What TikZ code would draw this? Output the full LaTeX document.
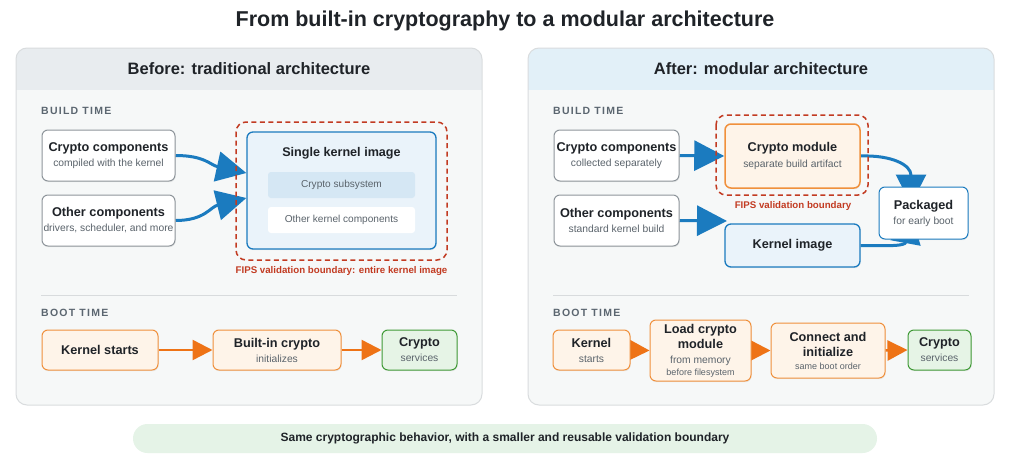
\documentclass[tikz,border=0pt]{standalone}
\usepackage{fontspec}
\setmainfont{Liberation Sans}
\usetikzlibrary{arrows.meta,shadows}
\pgfdeclarelayer{bg}
\pgfdeclarelayer{arr}
\pgfsetlayers{bg,arr,main}
\definecolor{titlec}{HTML}{1F2328}
\definecolor{subc}{HTML}{5A636B}
\definecolor{secc}{HTML}{5B6670}
\definecolor{boxgray}{HTML}{8E959B}
\definecolor{blueC}{HTML}{1B7BBF}
\definecolor{bluefill}{HTML}{EAF3FA}
\definecolor{bluesub}{HTML}{D5E7F4}
\definecolor{redC}{HTML}{C23B22}
\definecolor{orangeC}{HTML}{F0903C}
\definecolor{orangeA}{HTML}{EE7316}
\definecolor{orangefill}{HTML}{FEF4E9}
\definecolor{greenC}{HTML}{3F9A36}
\definecolor{greenfill}{HTML}{E6F4E6}
\definecolor{panelbg}{HTML}{F6F8F8}
\definecolor{panelbd}{HTML}{D9DCDE}
\definecolor{hdrL}{HTML}{E8ECEF}
\definecolor{hdrR}{HTML}{E2F0F8}
\definecolor{pillc}{HTML}{E5F3E7}
\definecolor{sepc}{HTML}{D8DBDD}
\newcommand{\ttl}[1]{{\fontsize{12.7}{15}\selectfont\bfseries\color{titlec}#1}}
\newcommand{\sbt}[1]{{\fontsize{10.3}{12}\selectfont\color{subc}#1}}
\newcommand{\sml}[1]{{\fontsize{9}{10.5}\selectfont\color{subc}#1}}
\newcommand{\seclbl}[1]{{\fontsize{10.5}{12}\selectfont\bfseries\addfontfeature{LetterSpace=12}\color{secc}#1}}
\tikzset{
  base/.style={rounded corners=6pt, line width=1pt, align=center, inner sep=0pt, text=titlec,
    drop shadow={opacity=0.12, shadow xshift=0.6pt, shadow yshift=-1.2pt}},
  graybox/.style={base, draw=boxgray, fill=white},
  bluebox/.style={base, draw=blueC, fill=bluefill, line width=1.3pt},
  orangebox/.style={base, draw=orangeC, fill=orangefill},
  greenbox/.style={base, draw=greenC, fill=greenfill},
  inner/.style={rounded corners=3pt, inner sep=0pt, minimum width=147pt, minimum height=26pt, text=subc, font=\fontsize{10.1}{12}\selectfont},
  bigarrow/.style={draw=blueC, line width=3pt, -{Triangle[length=30pt,width=30pt]}, color=blueC},
  orarrow/.style={draw=orangeA, line width=2.5pt, -{Triangle[length=20pt,width=20pt]}, color=orangeA},
  boundary/.style={draw=redC, line width=1.5pt, dash pattern=on 5pt off 3.5pt, rounded corners=10pt},
  fips/.style={text=redC, font=\fontsize{9.7}{11}\selectfont\bfseries, inner sep=0pt},
  hdr/.style={font=\fontsize{16.5}{19}\selectfont\bfseries, text=titlec, inner sep=0pt},
  sec/.style={anchor=west, inner sep=0pt},
}
\begin{document}
\begin{tikzpicture}[x=1pt,y=-1pt]
\useasboundingbox (0,0) rectangle (1015,471);
% ---- backgrounds
\begin{pgfonlayer}{bg}
  \fill[white] (0,0) rectangle (1015,471);
  % left panel
  \begin{scope}
    \clip[rounded corners=11pt] (16,48) rectangle (482,405);
    \fill[panelbg] (16,48) rectangle (482,405);
    \fill[hdrL] (16,48) rectangle (482,90);
  \end{scope}
  \draw[panelbd, line width=1pt, rounded corners=11pt] (16,48) rectangle (482,405);
  % right panel
  \begin{scope}
    \clip[rounded corners=11pt] (528,48) rectangle (994,405);
    \fill[panelbg] (528,48) rectangle (994,405);
    \fill[hdrR] (528,48) rectangle (994,90);
  \end{scope}
  \draw[panelbd, line width=1pt, rounded corners=11pt] (528,48) rectangle (994,405);
  % separators
  \draw[sepc, line width=1pt] (41,295) -- (457,295);
  \draw[sepc, line width=1pt] (553,295) -- (969,295);
  % pill
  \fill[pillc, rounded corners=14.5pt] (133,424) rectangle (877,453);
\end{pgfonlayer}

% ---- texts
\node[font=\fontsize{21.5}{25}\selectfont\bfseries, text=titlec, inner sep=0pt] (title) at (505,21) {From built-in cryptography to a modular architecture};
\node[hdr] (hL) at (249,69) {Before: traditional architecture};
\node[hdr] (hR) at (761,69) {After: modular architecture};
\node[sec] (bL) at (41,111) {\seclbl{BUILD TIME}};
\node[sec] (tL) at (41,313) {\seclbl{BOOT TIME}};
\node[sec] (bR) at (553,111) {\seclbl{BUILD TIME}};
\node[sec] (tR) at (553,313) {\seclbl{BOOT TIME}};
\node[font=\fontsize{12}{14}\selectfont\bfseries, text=titlec, inner sep=0pt] (pill) at (505,438) {Same cryptographic behavior, with a smaller and reusable validation boundary};

% ---- BEFORE: build time
\node[graybox, minimum width=133pt, minimum height=51pt] (cc) at (108.5,155.5) {\ttl{Crypto components}\\[3pt]\sbt{compiled with the kernel}};
\node[graybox, minimum width=133pt, minimum height=51pt] (oc) at (108.5,220.5) {\ttl{Other components}\\[3pt]\sbt{drivers, scheduler, and more}};
\node[bluebox, minimum width=189pt, minimum height=117pt] (ski) at (341.5,190.5) {};
\node[inner sep=0pt, font=\fontsize{12.6}{15}\selectfont\bfseries, text=titlec] (skit) at (341.5,153) {Single kernel image};
\node[inner, fill=bluesub] (cs) at (341.5,185) {Crypto subsystem};
\node[inner, fill=white] (okc) at (341.5,220) {Other kernel components};
\draw[boundary] (236,122) rectangle (447,260);
\node[fips] (fipsL) at (341.5,271) {FIPS validation boundary: entire kernel image};
\begin{pgfonlayer}{arr}
  \draw[bigarrow] (cc.east) .. controls (205,155.5) and (210,165) .. ([yshift=17.5pt]ski.west);
  \draw[bigarrow] (oc.east) .. controls (205,220.5) and (210,207) .. ([yshift=-7.5pt]ski.west);
\end{pgfonlayer}

% ---- BEFORE: boot time
\node[orangebox, minimum width=116pt, minimum height=40pt] (ks) at (100,350) {\ttl{Kernel starts}};
\node[orangebox, minimum width=128pt, minimum height=40pt] (bic) at (277,350) {\ttl{Built-in crypto}\\[3pt]\sbt{initializes}};
\node[greenbox, minimum width=75pt, minimum height=40pt] (csL) at (419.5,350) {\ttl{Crypto}\\[3pt]\sbt{services}};
\begin{pgfonlayer}{arr}
  \draw[orarrow] (ks.east) -- (bic.west);
  \draw[orarrow] (bic.east) -- (csL.west);
\end{pgfonlayer}

% ---- AFTER: build time
\node[graybox, minimum width=125pt, minimum height=51pt] (cc2) at (616.5,155.5) {\ttl{Crypto components}\\[3pt]\sbt{collected separately}};
\node[graybox, minimum width=125pt, minimum height=51pt] (oc2) at (616.5,220.5) {\ttl{Other components}\\[3pt]\sbt{standard kernel build}};
\draw[boundary] (716,115) rectangle (868,195);
\node[orangebox, line width=1.5pt, minimum width=135pt, minimum height=64pt] (cm) at (792.5,156) {\ttl{Crypto module}\\[4pt]\sbt{separate build artifact}};
\node[fips] (fipsR) at (793,206) {FIPS validation boundary};
\node[bluebox, minimum width=135pt, minimum height=43pt] (ki) at (792.5,245.5) {\ttl{Kernel image}};
\node[base, draw=blueC, fill=white, minimum width=89pt, minimum height=52pt] (pk) at (923.5,213) {\ttl{Packaged}\\[3pt]\sbt{for early boot}};
\coordinate (kiin) at (727,221);
\begin{pgfonlayer}{arr}
  \draw[bigarrow] (cc2.east) -- (cm.west);
  \draw[bigarrow] (oc2.east) -- (kiin);
  \draw[bigarrow] (cm.east) .. controls (892,155) and (911,165) .. ([xshift=-12.5pt,yshift=-18pt]pk.north);
  \draw[bigarrow] (ki.east) .. controls (890,246) and (905,246) .. ([xshift=-12.5pt,yshift=26pt]pk.south);
\end{pgfonlayer}

% ---- AFTER: boot time
\node[orangebox, minimum width=77pt, minimum height=40pt] (k2) at (591.5,350) {\ttl{Kernel}\\[3pt]\sbt{starts}};
\node[orangebox, minimum width=101pt, minimum height=61pt] (lcm) at (700.5,350.5) {\ttl{Load crypto}\\[3pt]\ttl{module}\\[3pt]\sbt{from memory}\\[0pt]\sml{before filesystem}};
\node[orangebox, minimum width=114pt, minimum height=55pt] (cai) at (828,350.5) {\ttl{Connect and}\\[3pt]\ttl{initialize}\\[1pt]\sml{same boot order}};
\node[greenbox, minimum width=63pt, minimum height=40pt] (cs2) at (939.5,350) {\ttl{Crypto}\\[3pt]\sbt{services}};
\begin{pgfonlayer}{arr}
  \draw[orarrow] (k2.east) -- (lcm.west);
  \draw[orarrow] (lcm.east) -- (cai.west);
  \draw[orarrow] (cai.east) -- (cs2.west);
\end{pgfonlayer}
\end{tikzpicture}
\end{document}
